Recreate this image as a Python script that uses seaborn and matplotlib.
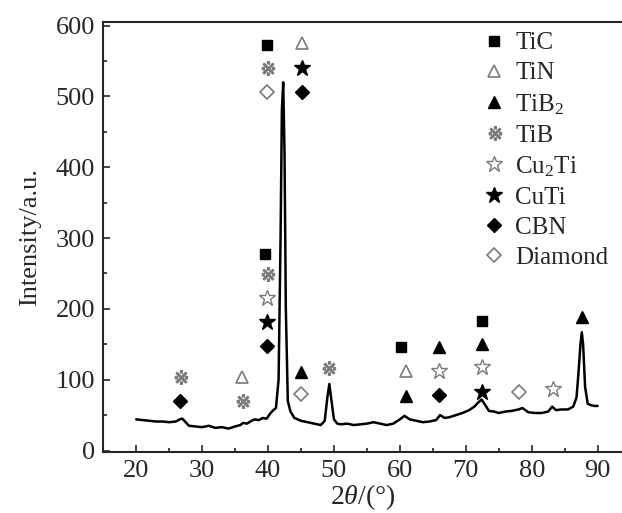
import numpy as np
import matplotlib
matplotlib.use("Agg")
import matplotlib.pyplot as plt
import seaborn as sns
from matplotlib.textpath import TextPath
from matplotlib.font_manager import FontProperties
from matplotlib.path import Path

# XRD pattern
two_theta = [20, 21, 22, 23, 24, 25, 26, 26.6, 27, 27.5,
             28, 29, 30, 31, 32, 33, 34, 35, 35.8, 36.2,
             36.8, 37.5, 38, 38.6, 39.2, 39.8, 40.3, 40.8, 41.2, 41.6,
             41.9, 42.1, 42.3, 42.5, 42.7, 43.0, 43.4, 44, 45, 46,
             47, 48, 48.6, 49.0, 49.3, 49.6, 50.0, 50.5, 51, 52,
             53, 54, 55, 56, 57, 58, 59, 60, 60.7, 61.5,
             62.5, 63.5, 64.5, 65.5, 66.1, 66.8, 67.5, 68.5, 69.5, 70.5,
             71.3, 71.9, 72.4, 72.9, 73.5, 74.3, 75, 76, 77, 78,
             78.6, 79.5, 80.5, 81.5, 82.5, 83.1, 83.7, 84.5, 85.5, 86.3,
             86.8, 87.1, 87.4, 87.6, 87.8, 88.1, 88.5, 89, 89.5, 90]
intensity = [44, 43, 42, 41, 41, 40, 41, 44, 45, 40,
             35, 34, 33, 35, 32, 33, 31, 34, 36, 39,
             38, 42, 44, 43, 46, 45, 52, 57, 60, 100,
             300, 480, 520, 420, 200, 70, 55, 46, 42, 40,
             38, 36, 42, 75, 94, 72, 44, 38, 37, 38,
             36, 37, 38, 40, 38, 36, 38, 44, 49, 44,
             42, 40, 41, 43, 50, 46, 47, 50, 53, 57,
             62, 68, 72, 65, 56, 55, 53, 55, 56, 58,
             60, 54, 53, 53, 55, 62, 57, 58, 58, 62,
             75, 110, 150, 167, 150, 90, 66, 64, 63, 63]

# phase marker positions (2theta, height)
tic_x = [39.8, 39.6, 60.2, 72.5]
tic_y = [572, 278, 146, 183]
tin_x = [45.1, 36.0, 60.9]
tin_y = [575, 104, 112]
tib2_x = [45.0, 60.9, 66.0, 72.4, 87.7]
tib2_y = [111, 77, 146, 150, 188]
tib_x = [39.8, 39.8, 26.7, 36.0, 49.1]
tib_y = [540, 249, 104, 70, 117]
cu2ti_x = [39.8, 66.0, 72.4, 83.2]
cu2ti_y = [215, 112, 118, 87]
cuti_x = [45.1, 39.8, 72.4]
cuti_y = [540, 181, 83]
cbn_x = [45.1, 39.8, 26.7, 66.0]
cbn_y = [506, 148, 70, 79]
diamond_x = [39.8, 45.0, 78.1]
diamond_y = [506, 80, 83]

sns.set_style("ticks")
plt.rcParams['font.family'] = ['Liberation Serif', 'DejaVu Serif']
plt.rcParams['mathtext.fontset'] = 'custom'
plt.rcParams['mathtext.rm'] = 'Liberation Serif'
plt.rcParams['mathtext.it'] = 'Liberation Serif:italic'

# reference-mark glyph as a marker path
tp = TextPath((0, 0), '\u203b', prop=FontProperties(family='DejaVu Sans'), size=10)
v = tp.vertices.copy()
v -= (v.max(axis=0) + v.min(axis=0)) / 2
refmark = Path(v, tp.codes)

fig = plt.figure(figsize=(6.22, 5.13), dpi=100)
ax = fig.add_axes([0.166, 0.119, 0.834, 0.838])

sns.lineplot(x=two_theta, y=intensity, ax=ax, color='black', lw=1.8, sort=False)

grey = '#7a7a7a'
ms = 8
ax.plot(tic_x, tic_y, ls='none', marker='s', ms=6.5, color='black', label='TiC')
ax.plot(tin_x, tin_y, ls='none', marker='^', ms=ms + 1, mfc='none', mec=grey, mew=1.2, label='TiN')
ax.plot(tib2_x, tib2_y, ls='none', marker='^', ms=ms, color='black', label='TiB$_2$')
ax.plot(tib_x, tib_y, ls='none', marker=refmark, ms=ms + 2, color=grey, label='TiB')
ax.plot(cu2ti_x, cu2ti_y, ls='none', marker='*', ms=ms + 4, mfc='none', mec=grey, mew=1.0, label='Cu$_2$Ti')
ax.plot(cuti_x, cuti_y, ls='none', marker='*', ms=ms + 4, color='black', label='CuTi')
ax.plot(cbn_x, cbn_y, ls='none', marker='D', ms=ms - 1, color='black', label='CBN')
ax.plot(diamond_x, diamond_y, ls='none', marker='D', ms=ms - 1, mfc='none', mec=grey, mew=1.2, label='Diamond')

ax.set_xlim(15, 93.7)
ax.set_ylim(-2, 605)
ax.set_xticks(range(20, 91, 10))
ax.set_xticks(range(25, 90, 10), minor=True)
ax.set_yticks(range(0, 601, 100))
ax.set_yticks(range(50, 600, 100), minor=True)
ax.tick_params(which='both', direction='in', labelsize=19, width=1.2, pad=6)
ax.tick_params(which='major', length=5)
ax.tick_params(which='minor', length=3)

ax.spines['right'].set_visible(False)
for s in ['left', 'bottom', 'top']:
    ax.spines[s].set_linewidth(1.5)

ax.set_xlabel(r'2$\mathit{\theta}$/(°)', fontsize=20, labelpad=0)
ax.set_ylabel('Intensity/a.u.', fontsize=19, labelpad=10)

ax.legend(loc='upper left', bbox_to_anchor=(0.70, 1.012), frameon=False,
          fontsize=18, handlelength=1.0, handletextpad=0.35, labelspacing=0.3,
          borderpad=0.1)

fig.savefig('out.png', dpi=100)
